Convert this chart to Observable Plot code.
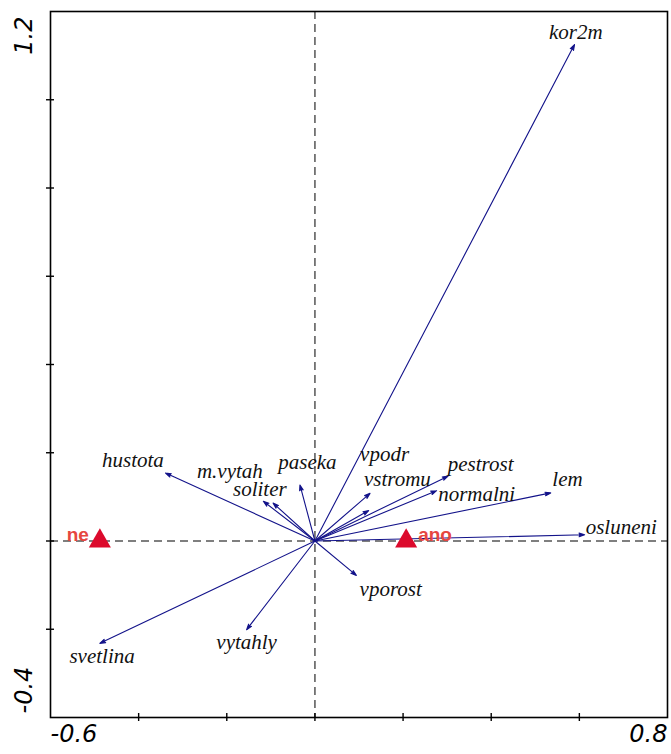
<!DOCTYPE html>
<html><head><meta charset="utf-8">
<script src="https://cdn.jsdelivr.net/npm/d3@7"></script>
<script src="https://cdn.jsdelivr.net/npm/@observablehq/plot@0.6"></script>
<style>body{margin:0;background:#fff}</style>
</head><body><div id="chart"></div>
<script>
// Environmental variable arrows (biplot scores)
const names  = ["kor2m","hustota","m.vytah","soliter","paseka","vpodr","vstromu","pestrost","normalni","lem","osluneni","vporost","vytahly","svetlina"];
const arrowX = [0.589, -0.339, -0.117, -0.095, -0.034, 0.125, 0.122, 0.302, 0.276, 0.535, 0.612, 0.094, -0.155, -0.488];
const arrowY = [1.125, 0.154, 0.090, 0.086, 0.127, 0.108, 0.069, 0.147, 0.114, 0.109, 0.014, -0.078, -0.201, -0.232];
// Label anchor points (data units)
const labelX = [0.592, -0.413, -0.193, -0.125, -0.017, 0.158, 0.187, 0.376, 0.367, 0.573, 0.695, 0.172, -0.155, -0.483];
const labelY = [1.154, 0.182, 0.157, 0.117, 0.178, 0.196, 0.141, 0.173, 0.105, 0.139, 0.030, -0.110, -0.230, -0.262];
// Nominal variable centroids
const groups = ["ne", "ano"];
const groupX = [-0.488, 0.207];
const groupY = [0, 0];
// Axes
const xDomain = [-0.6, 0.8];
const yDomain = [-0.4, 1.2];
const xTicks = [-0.4, -0.2, 0, 0.2, 0.4, 0.6];
const yTicks = [-0.2, 0, 0.2, 0.4, 0.6, 0.8, 1.0];
const xEndLabels = [-0.6, 0.8];
const yEndLabels = [-0.4, 1.2];

const arrows = names.map((name, i) => ({name, x: arrowX[i], y: arrowY[i], lx: labelX[i], ly: labelY[i]}));
const cents = groups.map((g, i) => ({g, x: groupX[i], y: groupY[i]}));

const navy = "#13138a";
const serif = "'Liberation Serif', 'Times New Roman', Times, serif";
const sans = "'DejaVu Sans', sans-serif";

const chart = Plot.plot({
  width: 671, height: 754,
  marginTop: 11, marginRight: 4, marginBottom: 37, marginLeft: 50,
  x: {domain: xDomain, axis: null},
  y: {domain: yDomain, axis: null},
  style: {background: "white", overflow: "visible"},
  marks: [
    Plot.ruleX([0], {x: d => d, stroke: "#555", strokeWidth: 1.5, strokeDasharray: "8,5"}),
    Plot.ruleY([0], {y: d => d, stroke: "#555", strokeWidth: 1.5, strokeDasharray: "8,5"}),
    Plot.arrow(arrows, {x1: () => 0, y1: () => 0, x2: "x", y2: "y", stroke: navy, fill: navy, strokeWidth: 1.1, headLength: 8, headAngle: 36}),
    Plot.text(arrows, {x: "lx", y: "ly", text: "name", fontFamily: serif, fontStyle: "italic", fontSize: 21, fill: "#111"}),
    Plot.dot(cents, {x: "x", y: "y", symbol: "triangle", r: 8.2, fill: "#dc0a2c", stroke: "none"}),
    Plot.text(cents.filter(d => d.x < 0), {x: "x", y: "y", text: "g", textAnchor: "end", dx: -11, dy: -6, fontFamily: "'Liberation Sans', Arial, sans-serif", fontWeight: "bold", fontSize: 19, fill: "#e6463f"}),
    Plot.text(cents.filter(d => d.x > 0), {x: "x", y: "y", text: "g", textAnchor: "start", dx: 12, dy: -6, fontFamily: "'Liberation Sans', Arial, sans-serif", fontWeight: "bold", fontSize: 19, fill: "#e6463f"}),
    Plot.frame({stroke: "black", strokeWidth: 1.6}),
    Plot.axisX({ticks: xTicks, anchor: "bottom", tickSize: 8, dy: -4, tickFormat: () => "", strokeWidth: 1.4, stroke: "black"}),
    Plot.axisY({ticks: yTicks, anchor: "left", tickSize: 8, dx: 4, tickFormat: () => "", strokeWidth: 1.4, stroke: "black"}),
    Plot.text([xEndLabels[0]], {x: d => d, frameAnchor: "bottom", dy: 24, textAnchor: "start", text: d => d.toFixed(1), fontFamily: sans, fontStyle: "italic", fontSize: 24, fill: "black"}),
    Plot.text([xEndLabels[1]], {x: d => d, frameAnchor: "bottom", dy: 24, textAnchor: "end", text: d => d.toFixed(1), fontFamily: sans, fontStyle: "italic", fontSize: 24, fill: "black"}),
    Plot.text([yEndLabels[0]], {y: d => d, frameAnchor: "left", dx: -26, dy: -4, rotate: -90, textAnchor: "start", text: d => d.toFixed(1), fontFamily: sans, fontStyle: "italic", fontSize: 24, fill: "black"}),
    Plot.text([yEndLabels[1]], {y: d => d, frameAnchor: "left", dx: -26, dy: 5, rotate: -90, textAnchor: "end", text: d => d.toFixed(1), fontFamily: sans, fontStyle: "italic", fontSize: 24, fill: "black"})
  ]
});
document.getElementById("chart").appendChild(chart);
</script>
</body></html>
